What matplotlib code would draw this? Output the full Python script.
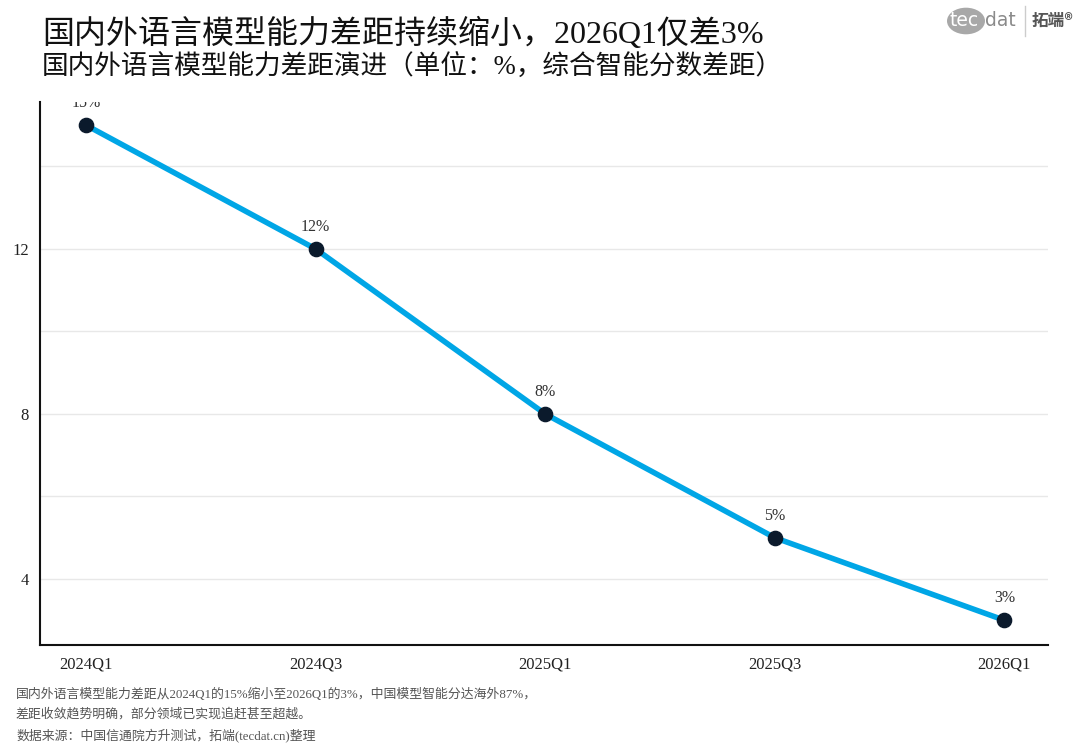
import matplotlib.pyplot as plt
from matplotlib.patches import Circle

plt.rcParams['font.family'] = ['Liberation Serif', 'Noto Sans CJK SC', 'DejaVu Sans']

# --- data ---
quarters = ['2024Q1', '2024Q3', '2025Q1', '2025Q3', '2026Q1']
gap_pct = [15, 12, 8, 5, 3]
ytick_vals = [4, 8, 12]
grid_vals = [4, 6, 8, 10, 12, 14]

title = '国内外语言模型能力差距持续缩小，2026Q1仅差3%'
subtitle = '国内外语言模型能力差距演进（单位：%，综合智能分数差距）'
notes = ['国内外语言模型能力差距从2024Q1的15%缩小至2026Q1的3%，中国模型智能分达海外87%，',
         '差距收敛趋势明确，部分领域已实现追赶甚至超越。',
         '数据来源：中国信通院方升测试，拓端(tecdat.cn)整理']

W, H = 1080, 756
fig = plt.figure(figsize=(W / 100, H / 100), dpi=100)
fig.patch.set_facecolor('white')

# axes box in pixels: left 40, right 1048, top 102, bottom 645
ax = fig.add_axes([40 / W, 1 - 645 / H, (1048 - 40) / W, (645 - 102) / H])

x = list(range(len(quarters)))
for g in grid_vals:
    ax.axhline(g, color='#e8e8e8', lw=1, zorder=0)

ax.plot(x, gap_pct, color='#00a6e6', lw=4, zorder=2, solid_capstyle='round')
ax.scatter(x, gap_pct, s=105, color='#0b1a2c', zorder=3)

for xi, v in zip(x, gap_pct):
    t = ax.annotate(f'{v}%', (xi, v), xytext=(0, 10), textcoords='offset points',
                    ha='center', va='bottom', fontsize=11.5, color='#333333',
                    annotation_clip=False)
    t.set_clip_on(True)
    t.set_clip_box(ax.bbox)

ax.set_xlim(-0.2, 4.19)
ax.set_ylim(2.4, 15.56)
ax.set_xticks(x)
ax.set_xticklabels(quarters, fontsize=12, color='#222222')
ax.set_yticks(ytick_vals)
ax.set_yticklabels([str(v) for v in ytick_vals], fontsize=12, color='#222222')
ax.tick_params(length=0, pad=8)
for side in ['top', 'right']:
    ax.spines[side].set_visible(False)
for side in ['left', 'bottom']:
    ax.spines[side].set_color('#111111')
    ax.spines[side].set_linewidth(1.5)

# titles
fig.text(42 / W, 1 - 34 / H, title, fontsize=23, color='#111111', va='center', ha='left')
fig.text(42 / W, 1 - 68 / H, subtitle, fontsize=19.2, color='#111111', va='center', ha='left')

# footnotes
for i, line in enumerate(notes):
    fig.text(16 / W, 1 - (694 + i * 20.5) / H, line, fontsize=9.3, color='#555555',
             va='center', ha='left')

# logo
fig.patches.append(Circle((966 / W, 1 - 21 / H), 19 / W, transform=fig.transFigure,
                          facecolor='#a8a8a8', edgecolor='none'))
fig.text(950 / W, 1 - 21 / H, 'tec', fontsize=13.5, color='white', va='center', ha='left',
         family='DejaVu Sans')
fig.text(985 / W, 1 - 21 / H, 'dat', fontsize=13.5, color='#8a8a8a', va='center', ha='left',
         family='DejaVu Sans')
fig.add_artist(plt.Line2D([1025 / W, 1025 / W], [1 - 6 / H, 1 - 36 / H],
                          transform=fig.transFigure, color='#cccccc', lw=1))
fig.text(1032 / W, 1 - 21 / H, '拓端®', fontsize=12, color='#555555', va='center', ha='left',
         family=['Noto Sans CJK SC', 'DejaVu Sans'], fontweight='bold')

fig.savefig('out.png', dpi=100)
